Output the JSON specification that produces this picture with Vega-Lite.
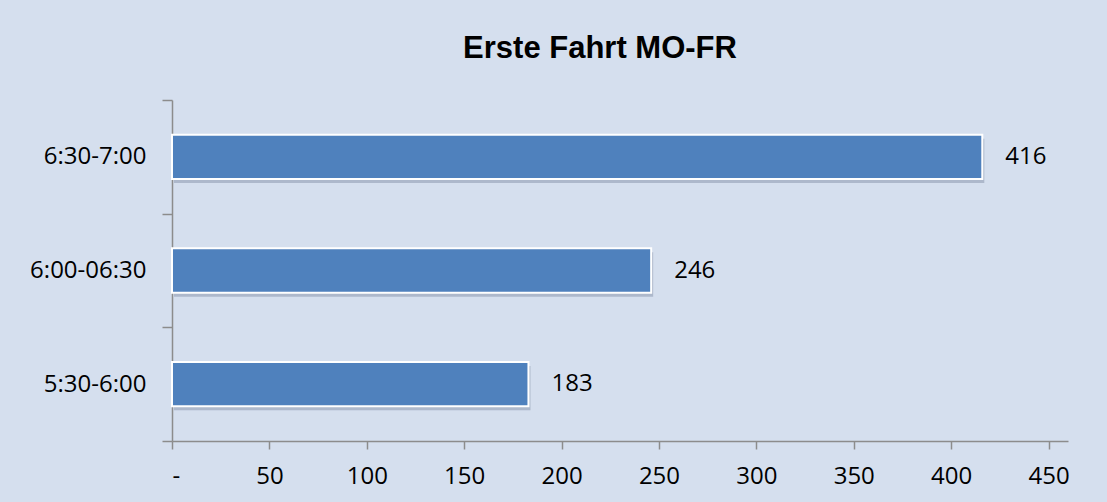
{
  "$schema": "https://vega.github.io/schema/vega-lite/v6.json",
  "autosize": "none",
  "width": 896,
  "height": 341,
  "padding": {"left": 172, "top": 100, "right": 39, "bottom": 61},
  "background": "#D5DFEE",
  "title": {
    "text": "Erste Fahrt MO-FR",
    "font": "Liberation Sans",
    "fontSize": 31,
    "fontWeight": "bold",
    "color": "#000000",
    "anchor": "middle",
    "frame": "group",
    "dx": -20,
    "offset": 23
  },
  "data": {
    "values": [
      {"zeit": "6:30-7:00", "anzahl": 416},
      {"zeit": "6:00-06:30", "anzahl": 246},
      {"zeit": "5:30-6:00", "anzahl": 183}
    ]
  },
  "config": {
    "view": {"stroke": null},
    "axis": {
      "labelFont": "Open Sans",
      "labelFontSize": 24,
      "labelColor": "#000000",
      "domainColor": "#8C8C8C",
      "tickColor": "#8C8C8C",
      "domainWidth": 1.5,
      "tickWidth": 1.5
    }
  },
  "encoding": {
    "y": {
      "field": "zeit",
      "type": "nominal",
      "sort": null,
      "title": null,
      "scale": {"paddingInner": 0, "paddingOuter": 0},
      "axis": {"grid": false, "tickSize": 10, "labelPadding": 16, "tickBand": "extent"}
    },
    "x": {
      "field": "anzahl",
      "type": "quantitative",
      "title": null,
      "scale": {"domain": [0, 460], "nice": false},
      "axis": {
        "values": [0, 50, 100, 150, 200, 250, 300, 350, 400, 450],
        "grid": false,
        "tickSize": 8,
        "labelPadding": 15,
        "labelExpr": "datum.value == 0 ? '-' : datum.label"
      }
    }
  },
  "layer": [
    {
      "mark": {"type": "bar", "color": "#7C8AA0", "opacity": 0.45, "height": {"band": 0.39}, "yOffset": 4, "xOffset": 2}
    },
    {
      "mark": {"type": "bar", "color": "#4F81BD", "stroke": "#FFFFFF", "strokeWidth": 2, "height": {"band": 0.39}}
    },
    {
      "mark": {"type": "text", "align": "left", "dx": 23, "font": "Open Sans", "fontSize": 24, "color": "#000000"},
      "encoding": {"text": {"field": "anzahl", "type": "quantitative"}}
    }
  ]
}
